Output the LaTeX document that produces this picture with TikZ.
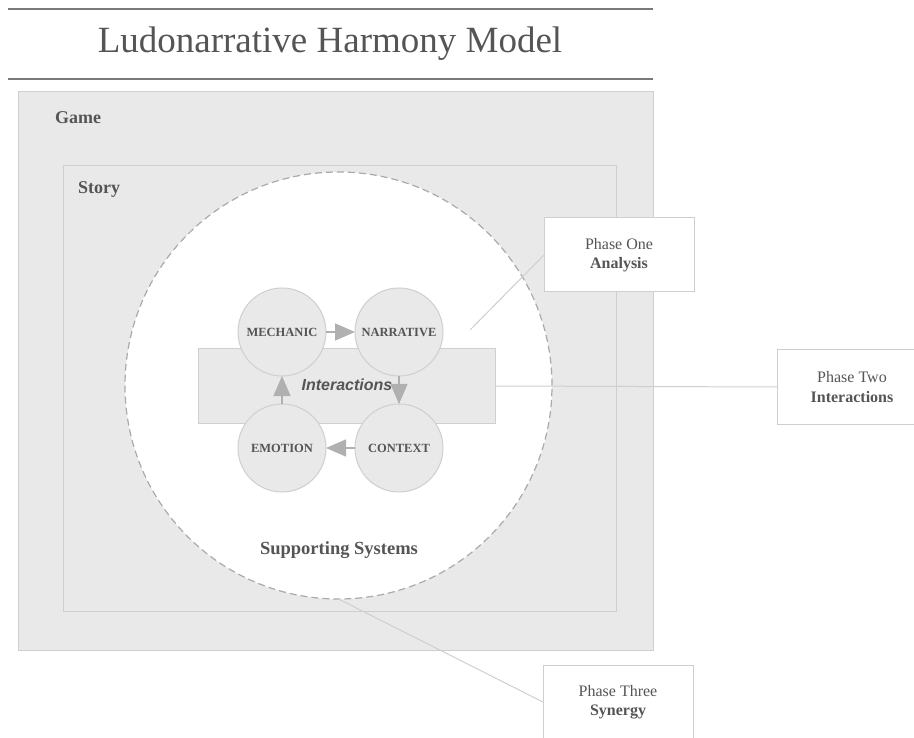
\documentclass[tikz,border=0pt]{standalone}
\usepackage{fontspec}
\setmainfont{Liberation Serif}
\setsansfont{Liberation Sans}
\usetikzlibrary{arrows.meta}
\definecolor{txtgray}{HTML}{555555}
\definecolor{boxfill}{HTML}{E9E9E9}
\definecolor{boxline}{HTML}{CFCFCF}
\definecolor{arrowgray}{HTML}{B0B0B0}
\definecolor{dashgray}{HTML}{AAAAAA}
\definecolor{rulegray}{HTML}{7A7A7A}

\begin{document}
\begin{tikzpicture}
  [x=1pt,y=-1pt,
   frame/.style={rectangle,draw=boxline,fill=boxfill,line width=1pt,
                 inner sep=0,outer sep=0},
   caption/.style={anchor=west,text=txtgray,inner sep=0,
                   font=\fontsize{18}{22}\selectfont\bfseries},
   stage/.style={circle,draw=boxline,fill=boxfill,line width=1pt,align=center,
                 inner sep=0,outer sep=0,minimum size=88pt,text=txtgray,
                 font=\fontsize{12.5}{14}\selectfont\bfseries},
   phase/.style={rectangle,draw=boxline,fill=white,line width=1pt,align=center,
                 inner sep=0,outer sep=0,minimum width=150pt,minimum height=74pt,
                 text=txtgray,font=\fontsize{16}{19.5}\selectfont},
   flow/.style={draw=arrowgray,line width=1.3pt,-{Triangle[length=20pt,width=17pt]}},
   leader/.style={draw=boxline,line width=1pt},
   rule/.style={draw=rulegray,line width=1.8pt}]
  \useasboundingbox (0,0) rectangle (914,738);
  \clip (0,0) rectangle (914,738);
%  title
  \node[text=txtgray,font=\fontsize{37}{44}\selectfont] (title) at (330,44) {Ludonarrative Harmony Model};
  \draw[rule] (8,9) -- (653,9);
  \draw[rule] (8,79) -- (653,79);
%  nested frames
  \node[frame,minimum width=635pt,minimum height=558pt] (game) at (335.5,371) {};
  \node[caption] (gamelabel) at (55,118) {Game};
  \node[frame,minimum width=553pt,minimum height=445pt] (story) at (339.5,388.5) {};
  \node[caption] (storylabel) at (78,189) {Story};
  \node[circle,draw=dashgray,fill=white,dash pattern=on 7pt off 4pt,line width=1.2pt,
        minimum size=427pt,inner sep=0,outer sep=0] (support) at (338.5,385.5) {};
  \node[text=txtgray,font=\fontsize{18.5}{22}\selectfont\bfseries] (supportlabel) at (339,550) {Supporting Systems};
%  interaction loop
  \node[frame,minimum width=297pt,minimum height=74pt] (interactions) at (346.5,386) {};
  \node[text=txtgray,font=\sffamily\fontsize{16}{19}\selectfont\bfseries\itshape] (interlabel) at (347,385) {Interactions};
  \node[stage] (mechanic) at (282,332) {MECHANIC};
  \node[stage] (narrative) at (399,332) {NARRATIVE};
  \node[stage] (context) at (399,448) {CONTEXT};
  \node[stage] (emotion) at (282,448) {EMOTION};
  \draw[flow] (mechanic) to (narrative);
  \draw[flow] (narrative) to (context);
  \draw[flow] (context) to (emotion);
  \draw[flow] (emotion) to (mechanic);
%  phases
  \node[phase] (phaseone) at (619,255) {Phase One\\\textbf{Analysis}};
  \node[phase] (phasetwo) at (852,387) {Phase Two\\\textbf{Interactions}};
  \node[phase] (phasethree) at (618,702) {Phase Three\\\textbf{Synergy}};
  \coordinate (analysisend) at (470,330);
  \draw[leader] (analysisend) to (phaseone.west);
  \draw[leader] (interactions.east) to (phasetwo.west);
  \draw[leader] (support.south) to (phasethree.west);
\end{tikzpicture}
\end{document}
